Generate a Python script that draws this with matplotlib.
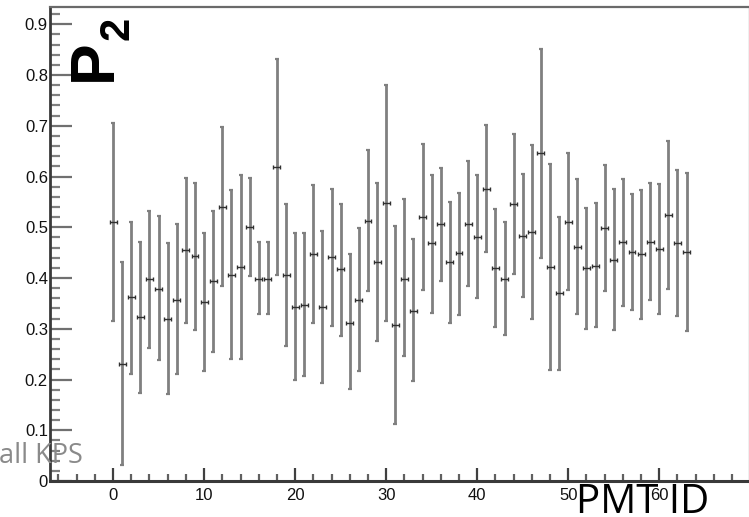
import numpy as np
import matplotlib
matplotlib.use("Agg")
import matplotlib.pyplot as plt
from matplotlib.ticker import MultipleLocator, FixedLocator

pmt_id = list(range(64))
p2_value = [0.511, 0.231, 0.362, 0.323, 0.399, 0.379, 0.320, 0.357, 0.456, 0.444,
            0.352, 0.394, 0.540, 0.406, 0.421, 0.500, 0.399, 0.399, 0.619, 0.406,
            0.342, 0.347, 0.447, 0.342, 0.441, 0.417, 0.312, 0.357, 0.513, 0.431,
            0.548, 0.308, 0.399, 0.335, 0.520, 0.468, 0.506, 0.431, 0.449, 0.506,
            0.481, 0.575, 0.419, 0.399, 0.545, 0.483, 0.491, 0.647, 0.421, 0.370,
            0.510, 0.461, 0.419, 0.423, 0.498, 0.436, 0.471, 0.451, 0.447, 0.471,
            0.458, 0.525, 0.468, 0.451]
p2_high = [0.705, 0.431, 0.511, 0.471, 0.533, 0.523, 0.469, 0.506, 0.598, 0.587,
           0.489, 0.533, 0.698, 0.573, 0.602, 0.598, 0.471, 0.471, 0.832, 0.545,
           0.489, 0.489, 0.583, 0.493, 0.575, 0.545, 0.447, 0.498, 0.652, 0.587,
           0.780, 0.503, 0.555, 0.476, 0.664, 0.602, 0.617, 0.550, 0.567, 0.630,
           0.602, 0.701, 0.535, 0.510, 0.684, 0.605, 0.662, 0.852, 0.625, 0.520,
           0.647, 0.595, 0.538, 0.548, 0.622, 0.575, 0.595, 0.566, 0.573, 0.587,
           0.585, 0.669, 0.612, 0.607]
p2_low = [0.315, 0.032, 0.211, 0.174, 0.263, 0.238, 0.172, 0.211, 0.312, 0.298,
          0.216, 0.255, 0.385, 0.241, 0.241, 0.404, 0.330, 0.330, 0.406, 0.266,
          0.199, 0.206, 0.312, 0.194, 0.305, 0.285, 0.181, 0.216, 0.374, 0.275,
          0.315, 0.112, 0.246, 0.197, 0.377, 0.332, 0.394, 0.312, 0.327, 0.385,
          0.360, 0.451, 0.303, 0.288, 0.407, 0.362, 0.320, 0.439, 0.218, 0.218,
          0.377, 0.330, 0.300, 0.303, 0.374, 0.298, 0.345, 0.337, 0.320, 0.357,
          0.330, 0.379, 0.325, 0.295]
y_ticks = [0, 0.1, 0.2, 0.3, 0.4, 0.5, 0.6, 0.7, 0.8, 0.9]
y_tick_labels = ["0", "0.1", "0.2", "0.3", "0.4", "0.5", "0.6", "0.7", "0.8", "0.9"]
x_ticks = [0, 10, 20, 30, 40, 50, 60]
x_tick_labels = ["0", "10", "20", "30", "40", "50", "60"]

W, H = 749, 517
fig = plt.figure(figsize=(W / 100, H / 100), dpi=100)
fig.patch.set_facecolor("white")
ax = fig.add_axes([50 / W, 1 - 481 / H, 698.5 / W, (481 - 7) / H])

x = np.array(pmt_id, dtype=float)
y = np.array(p2_value)
lo = np.array(p2_low)
hi = np.array(p2_high)

eb = ax.errorbar(x, y, yerr=[y - lo, hi - y], fmt="none", ecolor="#808080",
                 elinewidth=2.0, capsize=1.6, capthick=1.6, zorder=2)
for c in eb[1]:
    c.set_color("#404040")
ax.errorbar(x, y, xerr=0.38, fmt="none", ecolor="#303030",
            elinewidth=1.0, capsize=1.5, capthick=1.0, zorder=3)

ax.set_xlim(-6.93, 69.8)
ax.set_ylim(0, 0.934)

ax.yaxis.set_major_locator(FixedLocator(y_ticks))
ax.set_yticklabels(y_tick_labels)
ax.yaxis.set_minor_locator(MultipleLocator(0.02))
ax.xaxis.set_major_locator(FixedLocator(x_ticks))
ax.set_xticklabels(x_tick_labels)
ax.xaxis.set_minor_locator(MultipleLocator(2))

for lab in ax.get_xticklabels() + ax.get_yticklabels():
    lab.set_fontfamily("Liberation Sans")
    lab.set_fontsize(12)
    lab.set_color("#111111")

ax.tick_params(axis="y", which="major", direction="in", length=15.5, width=1.6,
               color="#707070", pad=1.5)
ax.tick_params(axis="y", which="minor", direction="in", length=7.5, width=1.6,
               color="#808080")
ax.tick_params(axis="x", which="major", direction="in", length=9.5, width=1.6,
               color="#404040", pad=5)
ax.tick_params(axis="x", which="minor", direction="in", length=5, width=1.6,
               color="#606060")

ax.spines["left"].set_linewidth(2.0)
ax.spines["left"].set_color("#3a3a3a")
ax.spines["bottom"].set_linewidth(2.2)
ax.spines["bottom"].set_color("#3a3a3a")
ax.spines["top"].set_linewidth(1.6)
ax.spines["top"].set_color("#6a6a6a")
ax.spines["right"].set_linewidth(1.0)
ax.spines["right"].set_color("#b0b0b0")

# Rotated title "P^2"
fig.text(111 / W, 1 - 81 / H, "P", rotation=90, rotation_mode="anchor",
         ha="left", va="baseline", fontsize=45, fontweight="bold",
         family="Liberation Sans", color="black")
fig.text(129 / W, 1 - 40 / H, "2", rotation=90, rotation_mode="anchor",
         ha="left", va="baseline", fontsize=30, fontweight="bold",
         family="Liberation Sans", color="black")

fig.text(83 / W, 1 - 463 / H, "all KPS", ha="right", va="baseline",
         fontsize=19.5, family="Open Sans", color="#8a8a8a")
fig.text(576 / W, 1 - 513 / H, "PMT ID", ha="left", va="baseline",
         fontsize=29, family="Open Sans", color="black")

fig.savefig("out.png", dpi=100, facecolor="white")
